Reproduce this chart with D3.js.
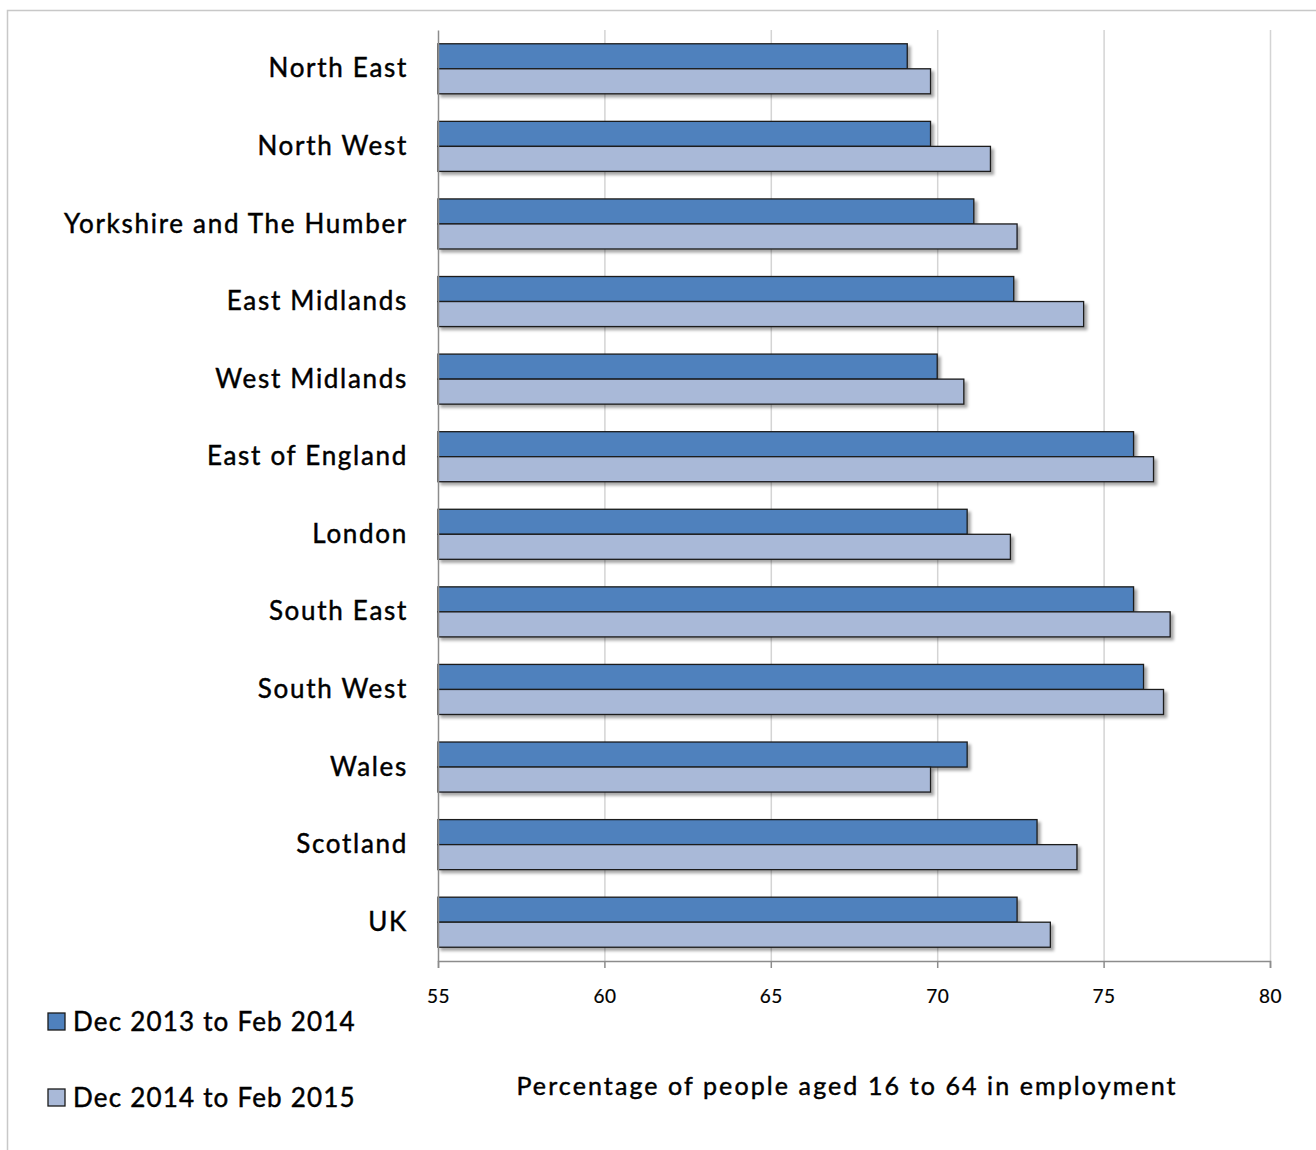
<!DOCTYPE html>
<html>
<head>
<meta charset="utf-8">
<script src="https://cdn.jsdelivr.net/npm/d3@7"></script>
<style>
  html, body { margin: 0; padding: 0; background: #fff; }
  svg { display: block; }
  text { font-family: Lato, "Open Sans", sans-serif; fill: #000; stroke: #000; stroke-width: 0.45px; }
</style>
</head>
<body>
<svg id="chart" width="1316" height="1150"></svg>
<script>
// Regions, top to bottom
const regions = ["North East", "North West", "Yorkshire and The Humber", "East Midlands",
  "West Midlands", "East of England", "London", "South East", "South West", "Wales",
  "Scotland", "UK"];
// Employment rate (%), people aged 16 to 64
const period1 = [69.1, 69.8, 71.1, 72.3, 70.0, 75.9, 70.9, 75.9, 76.2, 70.9, 73.0, 72.4];
const period2 = [69.8, 71.6, 72.4, 74.4, 70.8, 76.5, 72.2, 77.0, 76.8, 69.8, 74.2, 73.4];
const seriesNames = ["Dec 2013 to Feb 2014", "Dec 2014 to Feb 2015"];
const seriesColors = ["#4F81BD", "#A9B9D8"];
const xTicks = [55, 60, 65, 70, 75, 80];
const xTitle = "Percentage of people aged 16 to 64 in employment";

const svg = d3.select("#chart");
const series = [period1, period2];

// drop shadow for bars
const defs = svg.append("defs");
const f = defs.append("filter").attr("id", "shadow")
  .attr("x", "-5%").attr("y", "-30%").attr("width", "115%").attr("height", "180%");
f.append("feDropShadow").attr("dx", 3).attr("dy", 3).attr("stdDeviation", 1.8)
  .attr("flood-color", "#000").attr("flood-opacity", 0.35);

// outer frame
svg.append("rect").attr("x", 7.5).attr("y", 10.5).attr("width", 1330).attr("height", 1160)
  .attr("fill", "none").attr("stroke", "#c8c8c8").attr("stroke-width", 1.5);

const plot = { left: 438, right: 1270, top: 30, bottom: 961 };

const x = d3.scaleLinear().domain([55, 80]).range([plot.left, plot.right]);
const y = d3.scaleBand().domain(regions).range([plot.top, plot.bottom]).paddingInner(0.355).paddingOuter(0.1775);
const sub = d3.scaleBand().domain([0, 1]).range([0, y.bandwidth()]);

// vertical gridlines
svg.append("g").selectAll("line").data(xTicks.slice(1)).join("line")
  .attr("x1", d => x(d) + 0.5).attr("x2", d => x(d) + 0.5)
  .attr("y1", plot.top).attr("y2", plot.bottom)
  .attr("stroke", "#d4d4d4").attr("stroke-width", 1.5);

// bars
const groups = svg.append("g").selectAll("g").data(regions).join("g")
  .attr("transform", d => `translate(0,${y(d)})`);
groups.selectAll("rect").data((d, i) => series.map((s, k) => ({ k, v: s[i] })))
  .join("rect")
  .attr("x", x(55))
  .attr("y", d => sub(d.k))
  .attr("width", d => x(d.v) - x(55))
  .attr("height", sub.bandwidth())
  .attr("fill", d => seriesColors[d.k])
  .attr("stroke", "#1b1b1b").attr("stroke-width", 1.3)
  .attr("filter", "url(#shadow)");

// x axis
const xAxis = svg.append("g").attr("transform", `translate(0,${plot.bottom})`)
  .call(d3.axisBottom(x).tickValues(xTicks).tickSize(7).tickPadding(22));
xAxis.select(".domain").attr("stroke", "#8c8c8c").attr("stroke-width", 1.5);
xAxis.selectAll(".tick line").attr("stroke", "#8c8c8c").attr("stroke-width", 1.5);
xAxis.selectAll(".tick text").style("font-size", "19px").style("stroke-width", "0.2px")
  .style("letter-spacing", "0.5px").attr("fill", "#000");

// y axis
const yAxis = svg.append("g").attr("transform", `translate(${plot.left},0)`)
  .call(d3.axisLeft(y).tickSize(0).tickPadding(30));
yAxis.select(".domain").attr("stroke", "#8c8c8c").attr("stroke-width", 1.5);
yAxis.selectAll(".tick text").style("font-size", "26px").style("letter-spacing", "1.7px")
  .attr("dy", "0.33em").attr("fill", "#000");

// axis title
svg.append("text").attr("x", 847).attr("y", 1095).attr("text-anchor", "middle")
  .style("font-size", "25px").style("letter-spacing", "2.1px").text(xTitle);

// legend
const leg = svg.append("g").selectAll("g").data(seriesNames).join("g")
  .attr("transform", (d, i) => `translate(48,${1013 + i * 76})`);
leg.append("rect").attr("width", 17).attr("height", 17)
  .attr("fill", (d, i) => seriesColors[i]).attr("stroke", "#1b1b1b").attr("stroke-width", 1.3);
leg.append("text").attr("x", 25).attr("y", 18).style("font-size", "26px")
  .style("letter-spacing", "1.2px").text(d => d);
</script>
</body>
</html>
